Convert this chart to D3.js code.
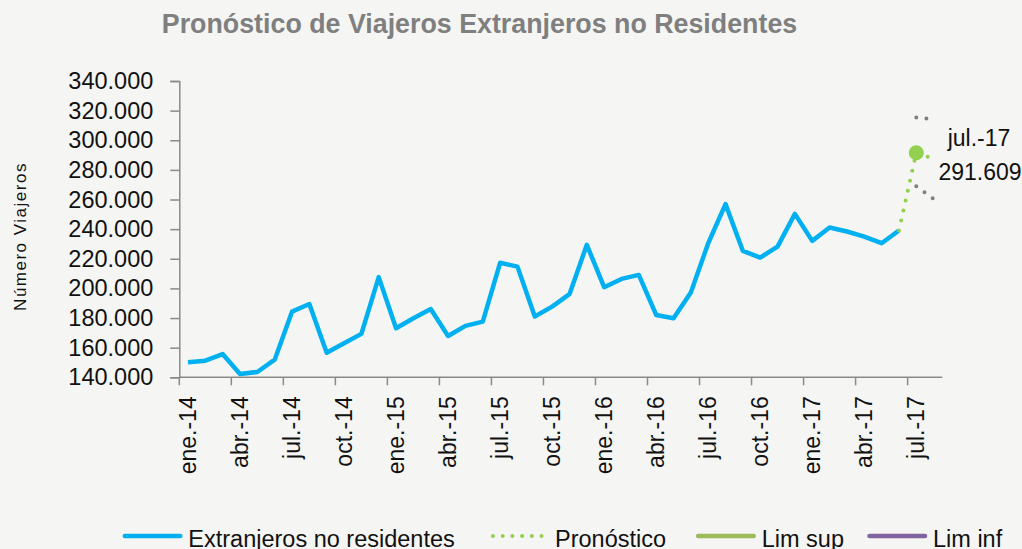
<!DOCTYPE html>
<html>
<head>
<meta charset="utf-8">
<script src="https://cdn.jsdelivr.net/npm/d3@7"></script>
<style>
  html, body { margin: 0; padding: 0; background: #f5f5f3; }
  svg { display: block; font-family: "Liberation Sans", Arial, sans-serif; }
</style>
</head>
<body>
<svg id="chart" width="1022" height="549"></svg>
<script>
// ---- Data ----
const months = [
  "ene.-14","feb.-14","mar.-14","abr.-14","may.-14","jun.-14","jul.-14","ago.-14","sep.-14","oct.-14","nov.-14","dic.-14",
  "ene.-15","feb.-15","mar.-15","abr.-15","may.-15","jun.-15","jul.-15","ago.-15","sep.-15","oct.-15","nov.-15","dic.-15",
  "ene.-16","feb.-16","mar.-16","abr.-16","may.-16","jun.-16","jul.-16","ago.-16","sep.-16","oct.-16","nov.-16","dic.-16",
  "ene.-17","feb.-17","mar.-17","abr.-17","may.-17","jun.-17","jul.-17","ago.-17"
];
const tickLabels = ["ene.-14","abr.-14","jul.-14","oct.-14","ene.-15","abr.-15","jul.-15","oct.-15",
  "ene.-16","abr.-16","jul.-16","oct.-16","ene.-17","abr.-17","jul.-17"];
const extranjeros = [
  150100,151200,155700,142200,143600,151900,184300,189500,156600,163000,169300,207600,
  173100,179900,186100,167900,174700,177600,217300,214700,181000,187700,196100,229400,
  200800,206400,209100,182100,179900,197200,230500,256900,225300,220800,228200,250300,
  232100,241100,238400,235000,230500,239100
];
const pronosticoMonths = ["jun.-17","jul.-17","ago.-17"];
const pronostico = [239100, 291609, 287300];
const limMonths = ["jul.-17","ago.-17"];
const limSup = [315400, 314200];
const limInf = [269000, 260300];
const yTicks = [140000,160000,180000,200000,220000,240000,260000,280000,300000,320000,340000];
const highlight = { month: "jul.-17", value: 291609 };
const legendItems = ["Extranjeros no residentes", "Pronóstico", "Lim sup", "Lim inf"];

// ---- Layout ----
const svg = d3.select("#chart");
const pLeft = 179.3, pRight = 942.3, pTop = 81, pBottom = 377.3;
const x = d3.scaleBand().domain(months).range([pLeft, pRight]).padding(0);
const cx = m => x(m) + x.bandwidth() / 2;
const y = d3.scaleLinear().domain([140000, 340000]).range([pBottom, pTop]);
const axisColor = "#8a8a8a";
const fmt = v => d3.format(",")(v).replace(/,/g, ".");

// Title
svg.append("text")
  .attr("x", 479.5).attr("y", 33)
  .attr("text-anchor", "middle")
  .attr("font-size", "26.8px").attr("font-weight", "bold")
  .attr("fill", "#7f7f7f")
  .text("Pronóstico de Viajeros Extranjeros no Residentes");

// Y axis title
svg.append("text")
  .attr("transform", "translate(26,236.5) rotate(-90)")
  .attr("text-anchor", "middle")
  .attr("font-size", "17px").attr("letter-spacing", "1.5px")
  .attr("fill", "#111")
  .text("Número Viajeros");

// Y axis
const yAxis = svg.append("g")
  .attr("transform", `translate(${pLeft},0)`)
  .call(d3.axisLeft(y).tickValues(yTicks).tickSize(9).tickPadding(17).tickFormat(fmt));
yAxis.select(".domain").attr("stroke", axisColor).attr("stroke-width", 1.5);
yAxis.selectAll(".tick line").attr("stroke", axisColor).attr("stroke-width", 1.5);
yAxis.selectAll(".tick text")
  .attr("font-size", "23.5px").attr("fill", "#111")
  .attr("font-family", "'Liberation Sans', Arial, sans-serif");

// X axis line
svg.append("line")
  .attr("x1", pLeft).attr("x2", pRight).attr("y1", pBottom).attr("y2", pBottom)
  .attr("stroke", axisColor).attr("stroke-width", 1.5);
// X ticks at band boundaries of labelled months
svg.append("g").selectAll("line")
  .data(tickLabels).join("line")
  .attr("x1", d => x(d)).attr("x2", d => x(d))
  .attr("y1", pBottom).attr("y2", pBottom + 8)
  .attr("stroke", axisColor).attr("stroke-width", 1.5);
// X labels
svg.append("g").selectAll("text")
  .data(tickLabels).join("text")
  .attr("transform", d => `translate(${cx(d)},${pBottom + 19}) rotate(-90)`)
  .attr("text-anchor", "end")
  .attr("dy", "0.35em")
  .attr("font-size", "23px").attr("fill", "#111")
  .text(d => d);

// Main series
const line = d3.line().x(d => cx(d.m)).y(d => y(d.v));
svg.append("path")
  .datum(extranjeros.map((v, i) => ({ m: months[i], v })))
  .attr("d", line)
  .attr("fill", "none").attr("stroke", "#00b0f0")
  .attr("stroke-width", 4.5).attr("stroke-linejoin", "round");

// Limits (grey dotted)
[limSup, limInf].forEach(arr => {
  svg.append("path")
    .datum(arr.map((v, i) => ({ m: limMonths[i], v })))
    .attr("d", line)
    .attr("fill", "none").attr("stroke", "#7f7f7f")
    .attr("stroke-width", 4).attr("stroke-linecap", "round")
    .attr("stroke-dasharray", "0 10.2");
});

// Forecast (green dotted)
svg.append("path")
  .datum(pronostico.map((v, i) => ({ m: pronosticoMonths[i], v })))
  .attr("d", line)
  .attr("fill", "none").attr("stroke", "#92d050")
  .attr("stroke-width", 4).attr("stroke-linecap", "round")
  .attr("stroke-dasharray", "0 10.2");

// Highlight point and label
svg.append("circle")
  .attr("cx", cx(highlight.month)).attr("cy", y(highlight.value))
  .attr("r", 7.5).attr("fill", "#92d050");
svg.append("text")
  .attr("x", 979).attr("y", 138).attr("dy", "0.35em")
  .attr("text-anchor", "middle").attr("font-size", "23px").attr("fill", "#111")
  .text(highlight.month);
svg.append("text")
  .attr("x", 980).attr("y", 172).attr("dy", "0.35em")
  .attr("text-anchor", "middle").attr("font-size", "23px").attr("fill", "#111")
  .text(fmt(highlight.value));

// Legend
const legendX = [123.3, 493, 696.7, 868];
const legendStyles = [
  { stroke: "#00b0f0", dash: null, w: 4.5 },
  { stroke: "#92d050", dash: "0 9.7", w: 4 },
  { stroke: "#9bbb59", dash: null, w: 4.5 },
  { stroke: "#8064a2", dash: null, w: 4.5 }
];
const lg = svg.append("g");
legendItems.forEach((name, i) => {
  const st = legendStyles[i];
  const x0 = legendX[i];
  const len = i === 1 ? 48.7 : 57;
  lg.append("line")
    .attr("x1", x0 + (i === 1 ? 0 : 1.5)).attr("x2", x0 + len).attr("y1", 536).attr("y2", 536)
    .attr("stroke", st.stroke).attr("stroke-width", st.w)
    .attr("stroke-linecap", "round")
    .attr("stroke-dasharray", st.dash);
  lg.append("text")
    .attr("x", x0 + (i === 1 ? 62 : 65)).attr("y", 546.7)
    .attr("font-size", "23.5px").attr("fill", "#111")
    .text(name);
});
</script>
</body>
</html>
